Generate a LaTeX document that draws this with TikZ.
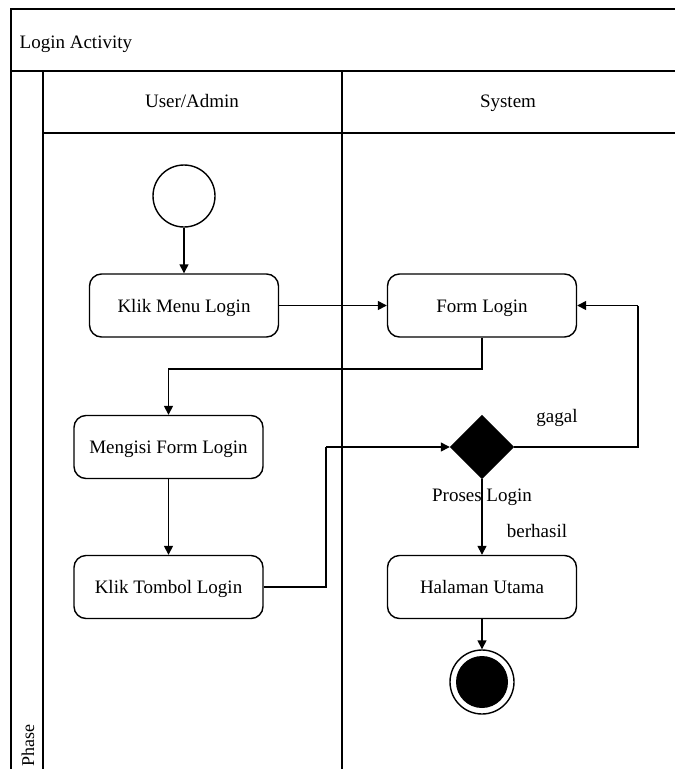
\documentclass[tikz,border=0pt]{standalone}
\usepackage{fontspec}
\setmainfont{Liberation Serif}
\usetikzlibrary{shapes.geometric,arrows.meta}

\begin{document}
\begin{tikzpicture}[x=1pt,y=-1pt,
  line width=1.4pt,
  every node/.style={font=\fontsize{19}{22}\selectfont},
  action/.style={draw,rounded corners=12pt,minimum width=189pt,minimum height=63pt,
    inner sep=0pt,text height=17pt,text depth=4pt},
  arr/.style={-{Triangle[length=9pt,width=9pt]}},
  lbl/.style={inner sep=0pt,text height=15pt,text depth=4pt}
]
\useasboundingbox (0,0) rectangle (675,769);

% swimlane frame
\draw (675,9) -- (11,9) -- (11,769);
\draw (11,71) -- (675,71);
\draw (43,71) -- (43,769);
\draw (43,133) -- (675,133);
\draw (342,71) -- (342,769);

\node[lbl,anchor=west] (title) at (19,43) {Login Activity};
\node[lbl] (laneuser) at (192,102) {User/Admin};
\node[lbl] (lanesys) at (508,102) {System};
\node[inner sep=0pt,rotate=90,anchor=west,font=\fontsize{18}{20}\selectfont] (phase) at (28,767) {Phase};

% nodes
\node[draw,circle,minimum size=62pt,inner sep=0pt] (start) at (184,196) {};
\node[action] (klikmenu) at (184,305.5) {Klik Menu Login};
\node[action] (form) at (482,305.5) {Form Login};
\node[action] (mengisi) at (168.5,447) {Mengisi Form Login};
\node[action] (tombol) at (168.5,587) {Klik Tombol Login};
\node[diamond,fill=black,draw,minimum size=63pt,inner sep=0pt,aspect=1] (decision) at (482,447) {};
\node[action] (halaman) at (482,587) {Halaman Utama};
\node[draw,circle,minimum size=64pt,inner sep=0pt] (final) at (482,682) {};
\node[fill=black,circle,minimum size=52pt,inner sep=0pt] (finaldot) at (final.center) {};

% labels
\node[lbl] (gagal) at (557,417) {gagal};
\node[lbl] (proses) at (482,496) {Proses Login};
\node[lbl] (berhasil) at (537,532) {berhasil};

% bend points
\coordinate (j1) at (482,369);
\coordinate (j2) at (326,447);
\coordinate (j3) at (638,305.5);

% connectors
\draw[arr] (start) -- (klikmenu);
\draw[arr] (klikmenu) -- (form);
\draw[arr] (form.south) -- (j1) -| (mengisi.north);
\draw[arr] (mengisi) -- (tombol);
\draw (tombol.east) -| (j2);
\draw[arr] (j2) -- (decision.west);
\draw (decision.east) -| (j3);
\draw[arr] (j3) -- (form.east);
\draw[arr] (decision.south) -- (halaman.north);
\draw[arr] (halaman) -- (final);
\end{tikzpicture}
\end{document}
